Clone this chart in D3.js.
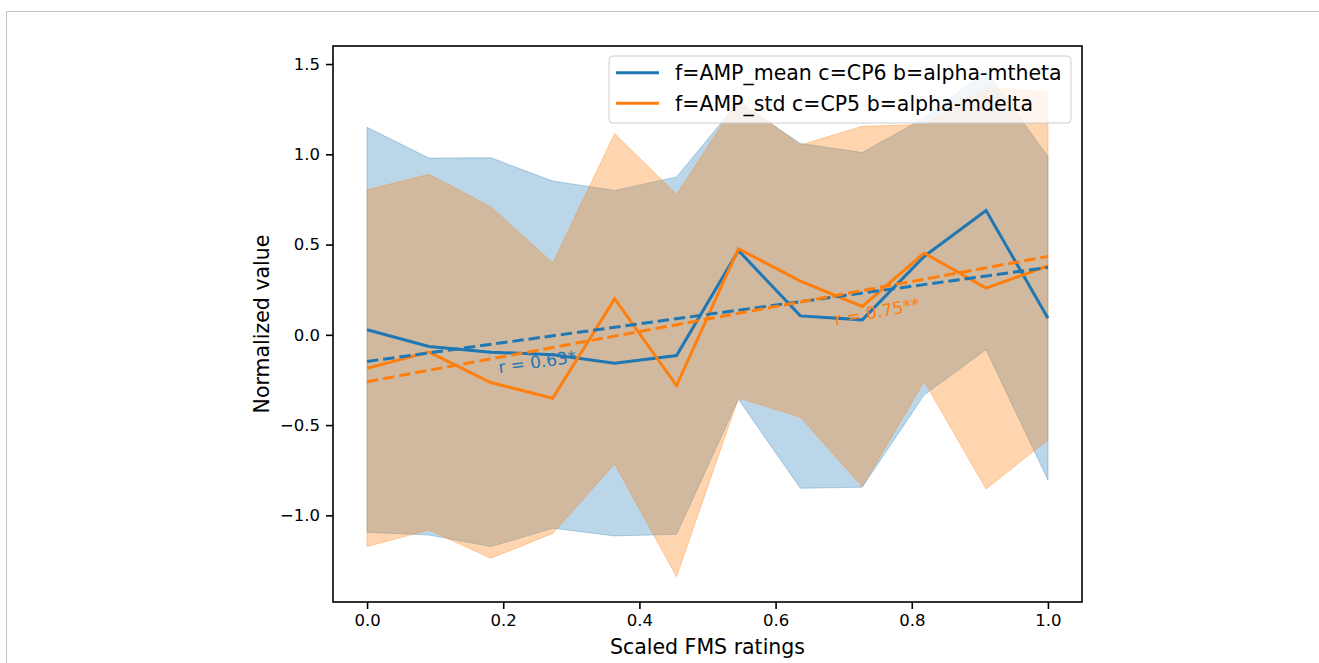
<!DOCTYPE html>
<html>
<head>
<meta charset="utf-8">
<script src="https://cdn.jsdelivr.net/npm/d3@7"></script>
<style>
  body { margin: 0; background: #fff; }
  svg text { font-family: "DejaVu Sans", sans-serif; }
</style>
</head>
<body>
<svg id="chart"></svg>
<script>
// scaled FMS rating bins (0 .. 1 in 12 steps)
var ratings = [0, 1/11, 2/11, 3/11, 4/11, 5/11, 6/11, 7/11, 8/11, 9/11, 10/11, 1];

var seriesNames = ["f=AMP_mean c=CP6 b=alpha-mtheta", "f=AMP_std c=CP5 b=alpha-mdelta"];

var meanMean = [0.028, -0.065, -0.096, -0.110, -0.157, -0.115, 0.467, 0.105, 0.083, 0.434, 0.689, 0.092];
var meanStd  = [1.122, 1.044, 1.077, 0.962, 0.957, 0.990, 0.824, 0.955, 0.927, 0.767, 0.771, 0.896];

var stdMean = [-0.185, -0.096, -0.264, -0.351, 0.200, -0.281, 0.477, 0.298, 0.157, 0.453, 0.259, 0.382];
var stdStd  = [0.988, 0.985, 0.974, 0.749, 0.915, 1.059, 0.827, 0.754, 0.998, 0.712, 1.113, 0.964];

var corrLabels = ["r = 0.63*", "r = 0.75**"];
var corrLabelX = [0.194, 0.688];

var xTicks = [0, 0.2, 0.4, 0.6, 0.8, 1.0];
var yTicks = [-1.0, -0.5, 0, 0.5, 1.0, 1.5];

var blue = "#1f77b4", orange = "#ff7f0e";

var W = 1319, H = 663;
var margin = {top: 46, right: 237, bottom: 61, left: 333},
    width = W - margin.left - margin.right,
    height = H - margin.top - margin.bottom;

var series = [
  {name: seriesNames[0], color: blue, alpha: 0.3, mean: meanMean, std: meanStd, label: corrLabels[0], lx: corrLabelX[0]},
  {name: seriesNames[1], color: orange, alpha: 0.33, mean: stdMean, std: stdStd, label: corrLabels[1], lx: corrLabelX[1]}
];

series.forEach(function(s) {
  s.values = ratings.map(function(r, i) {
    return {x: r, m: s.mean[i], lo: s.mean[i] - s.std[i], hi: s.mean[i] + s.std[i]};
  });
  // least squares fit of the mean curve
  var mx = d3.mean(ratings), my = d3.mean(s.mean);
  var num = d3.sum(ratings, function(r, i) { return (r - mx) * (s.mean[i] - my); });
  var den = d3.sum(ratings, function(r) { return (r - mx) * (r - mx); });
  s.slope = num / den;
  s.intercept = my - s.slope * mx;
});

var svg = d3.select("#chart")
    .attr("width", W)
    .attr("height", H);

// thin page frame
svg.append("line").attr("x1", 6).attr("x2", W).attr("y1", 11.5).attr("y2", 11.5)
    .attr("stroke", "#c4c4c4").attr("stroke-width", 1);
svg.append("line").attr("x1", 6.5).attr("x2", 6.5).attr("y1", 11).attr("y2", H)
    .attr("stroke", "#c4c4c4").attr("stroke-width", 1);

var g = svg.append("g")
    .attr("transform", "translate(" + margin.left + "," + margin.top + ")");

// matplotlib style 5% margins
var lowAll = d3.min(series, function(s) { return d3.min(s.values, function(d) { return d.lo; }); });
var highAll = d3.max(series, function(s) { return d3.max(s.values, function(d) { return d.hi; }); });
var pad = (highAll - lowAll) * 0.05;

var xScale = d3.scaleLinear().domain([-0.05, 1.05]).range([0, width]);
var yScale = d3.scaleLinear().domain([lowAll - pad, highAll + pad]).range([height, 0]);

var area = d3.area()
    .x(function(d) { return xScale(d.x); })
    .y0(function(d) { return yScale(d.lo); })
    .y1(function(d) { return yScale(d.hi); });

var line = d3.line()
    .x(function(d) { return xScale(d.x); })
    .y(function(d) { return yScale(d.m); });

// bands
series.forEach(function(s) {
  g.append("path")
      .datum(s.values)
      .attr("d", area)
      .attr("fill", s.color)
      .attr("fill-opacity", s.alpha)
      .attr("stroke", s.color)
      .attr("stroke-opacity", s.alpha)
      .attr("stroke-width", 1);
});

// mean curves
series.forEach(function(s) {
  g.append("path")
      .datum(s.values)
      .attr("d", line)
      .attr("fill", "none")
      .attr("stroke", s.color)
      .attr("stroke-width", 3)
      .attr("stroke-linejoin", "miter");
});

// fitted lines + r labels
series.forEach(function(s) {
  var fit = [0, 1].map(function(x) { return {x: x, m: s.intercept + s.slope * x}; });
  g.append("path")
      .datum(fit)
      .attr("d", line)
      .attr("fill", "none")
      .attr("stroke", s.color)
      .attr("stroke-width", 3)
      .attr("stroke-dasharray", "11.4,4.9");

  var p0 = [xScale(0), yScale(s.intercept)];
  var p1 = [xScale(1), yScale(s.intercept + s.slope)];
  var angle = Math.atan2(p1[1] - p0[1], p1[0] - p0[0]) * 180 / Math.PI;
  var ly = s.intercept + s.slope * s.lx;
  g.append("text")
      .attr("transform", "translate(" + xScale(s.lx) + "," + (yScale(ly) + 30) + ") rotate(" + angle + ")")
      .attr("fill", s.color)
      .style("font-size", "17px")
      .text(s.label);
});

// axes
var xAxis = g.append("g")
    .attr("class", "x-axis")
    .attr("transform", "translate(0," + height + ")")
    .call(d3.axisBottom(xScale).tickValues(xTicks).tickSize(7).tickPadding(5)
      .tickFormat(d3.format(".1f")));

var yAxis = g.append("g")
    .attr("class", "y-axis")
    .call(d3.axisLeft(yScale).tickValues(yTicks).tickSize(7).tickPadding(6)
      .tickFormat(function(d) { return d3.format(".1f")(d).replace("-", "\u2212"); }));

[xAxis, yAxis].forEach(function(ax) {
  ax.select(".domain").remove();
  ax.selectAll(".tick line").attr("stroke", "#000").attr("stroke-width", 1.6);
  ax.selectAll(".tick text")
      .attr("fill", "#000")
      .style("font-family", "DejaVu Sans, sans-serif")
      .style("font-size", "16.5px");
});

// frame
g.append("rect")
    .attr("width", width)
    .attr("height", height)
    .attr("fill", "none")
    .attr("stroke", "#000")
    .attr("stroke-width", 1.6);

// axis labels
svg.append("text")
    .attr("x", margin.left + width / 2)
    .attr("y", 654)
    .attr("text-anchor", "middle")
    .style("font-size", "20.5px")
    .text("Scaled FMS ratings");

svg.append("text")
    .attr("transform", "translate(269," + (margin.top + height / 2) + ") rotate(-90)")
    .attr("text-anchor", "middle")
    .style("font-size", "20.5px")
    .text("Normalized value");

// legend
var legend = svg.append("g").attr("transform", "translate(609,56)");
legend.append("rect")
    .attr("width", 462)
    .attr("height", 67)
    .attr("rx", 4)
    .attr("fill", "#fff")
    .attr("fill-opacity", 0.8)
    .attr("stroke", "#cccccc")
    .attr("stroke-width", 1);

series.forEach(function(s, i) {
  var ly = 16.7 + i * 30.6;
  legend.append("line")
      .attr("x1", 7).attr("x2", 50)
      .attr("y1", ly).attr("y2", ly)
      .attr("stroke", s.color)
      .attr("stroke-width", 3);
  legend.append("text")
      .attr("x", 66)
      .attr("y", ly)
      .attr("dy", "0.36em")
      .style("font-size", "20.5px")
      .text(s.name);
});
</script>
</body>
</html>
